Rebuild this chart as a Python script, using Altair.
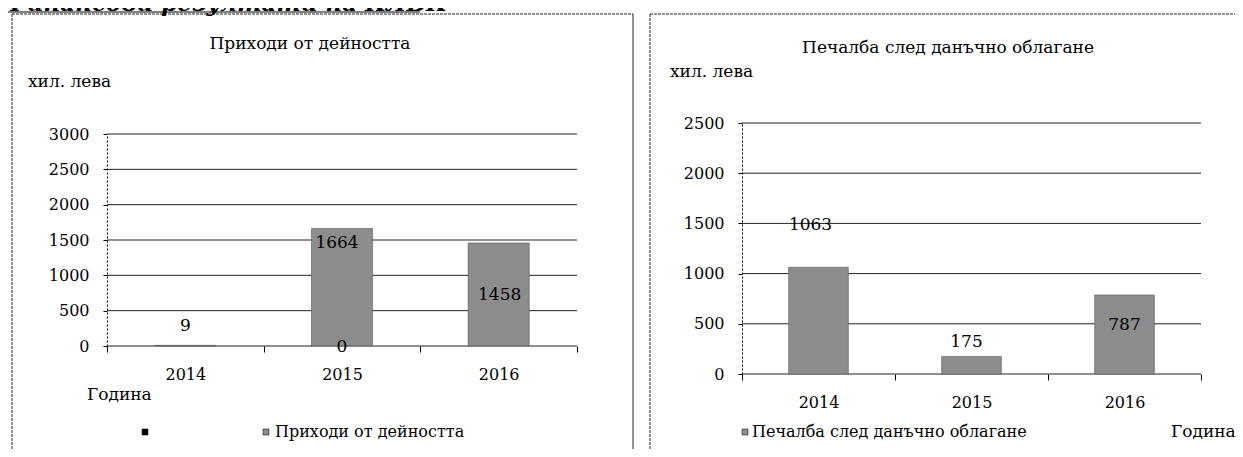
import altair as alt
import pandas as pd

# ---------------- data ----------------
years = ["2014", "2015", "2016"]
revenue = [9, 1664, 1458]            # Приходи от дейността
revenue_blank = [None, 0, None]      # unnamed series (only a 0 in 2015)
profit = [1063, 175, 787]            # Печалба след данъчно облагане
left_ticks = [0, 500, 1000, 1500, 2000, 2500, 3000]
right_ticks = [0, 500, 1000, 1500, 2000, 2500]

heading = "Финансови резултати на КЛБК"
left_title = "Приходи от дейността"
right_title = "Печалба след данъчно облагане"
unit_label = "хил. лева"
year_label = "Година"
left_legend = ["", "Приходи от дейността"]
right_legend = ["Печалба след данъчно облагане"]

# ---------------- layout / style ----------------
W, H = 1227, 441
def P(v):
    return v - 8  # page pixel -> chart pixel

FONT = "DejaVu Serif"
BAR = "#8c8c8c"
LX, LY = [P(107), P(577)], [P(346), P(134)]
RX, RY = [P(742), P(1201)], [P(374), P(123)]

# label offsets (dx, dy) as placed in the original chart
left_offsets = [(0, -19), (-5, 15), (1, 52)]
left_blank_offsets = [None, (0, 1), None]
right_offsets = [(-8, -42), (-5, -14), (0, 30)]

dummy = pd.DataFrame({"_": [0]})


def txt(s, x, y, size=16, align="left", **kw):
    return alt.Chart(dummy).mark_text(
        text=s, align=align, baseline="middle", font=FONT, fontSize=size, color="black", **kw
    ).encode(x=alt.value(x), y=alt.value(y))


def hline(x1, x2, y, dash=None, color="#222", w=1):
    kw = {"strokeDash": dash} if dash else {}
    return alt.Chart(dummy).mark_rule(color=color, strokeWidth=w, **kw).encode(
        x=alt.value(x1), x2=alt.value(x2), y=alt.value(y))


def vline(x, y1, y2, dash=None, color="#222", w=1):
    kw = {"strokeDash": dash} if dash else {}
    return alt.Chart(dummy).mark_rule(color=color, strokeWidth=w, **kw).encode(
        x=alt.value(x), y=alt.value(y1), y2=alt.value(y2))


def square(x, y, color):
    return alt.Chart(dummy).mark_square(size=36, color=color, opacity=1, stroke="black", strokeWidth=0.5).encode(
        x=alt.value(x), y=alt.value(y))


def panel(values, ticks, ymax, xr, yr, offsets, blank=None, blank_offsets=None):
    x = alt.X("year:N", sort=years,
              scale=alt.Scale(domain=years, range=xr, paddingInner=0, paddingOuter=0),
              axis=alt.Axis(orient="bottom", offset=-(H - yr[0]), title=None, labelAngle=0,
                            labelFont=FONT, labelFontSize=16, labelColor="black", labelPadding=14,
                            tickSize=6, tickColor="black", tickBand="extent", domain=False, grid=False))
    y = alt.Y("value:Q",
              scale=alt.Scale(domain=[0, ymax], range=yr, nice=False, zero=True),
              axis=alt.Axis(orient="left", offset=-xr[0], values=ticks, title=None, grid=False,
                            labelFont=FONT, labelFontSize=16, labelColor="black", labelPadding=14,
                            tickSize=4, tickColor="black", domainColor="black", domainDash=[2, 2],
                            format="d"))
    grid = alt.Chart(pd.DataFrame({"value": ticks})).mark_rule(color="#222", strokeWidth=1).encode(
        y=y, x=alt.value(xr[0]), x2=alt.value(xr[1]))
    bars = alt.Chart(pd.DataFrame({"year": years, "value": values})).mark_bar(
        width={"band": 0.39}, color=BAR, stroke="#555", strokeWidth=0.6).encode(x=x, y=y)
    layers = [grid, bars]
    for yr_, v, (dx, dy) in zip(years, values, offsets):
        layers.append(alt.Chart(pd.DataFrame({"year": [yr_], "value": [v], "text": [str(v)]})).mark_text(
            dx=dx, dy=dy, font=FONT, fontSize=17, color="black", baseline="middle").encode(
            x=x, y=y, text="text:N"))
    if blank is not None:
        for yr_, v, off in zip(years, blank, blank_offsets):
            if v is None:
                continue
            dx, dy = off
            layers.append(alt.Chart(pd.DataFrame({"year": [yr_], "value": [v], "text": [str(v)]})).mark_text(
                dx=dx, dy=dy, font=FONT, fontSize=17, color="black", baseline="middle").encode(
                x=x, y=y, text="text:N"))
    return alt.layer(*layers)


left_panel = panel(revenue, left_ticks, 3000, LX, LY, left_offsets, revenue_blank, left_blank_offsets)
right_panel = panel(profit, right_ticks, 2500, RX, RY, right_offsets)

decor = [
    # page heading (cut off at top)
    alt.Chart(dummy).mark_text(text=heading, align="left", baseline="alphabetic", font=FONT,
                               fontSize=23, fontWeight="bold", fontStyle="italic", color="black").encode(
        x=alt.value(P(5)), y=alt.value(P(11))),
    hline(P(5), P(420), P(12), color="black", w=1.2),
    # left frame
    vline(P(12), P(14), H, dash=[3, 1]),
    hline(P(12), P(633), P(14), dash=[3, 1]),
    vline(P(633), P(14), H),
    # right frame
    vline(P(650), P(14), H, dash=[3, 1]),
    hline(P(650), W, P(14), dash=[3, 1]),
    # left texts
    txt(left_title, P(310), P(44), size=17, align="center"),
    txt(unit_label, P(28), P(82), size=17),
    txt(year_label, P(87), P(395), size=17),
    square(P(145), P(432), "black"),
    txt(left_legend[0], P(152), P(432)),
    square(P(266), P(432), BAR),
    txt(left_legend[1], P(275), P(432)),
    # right texts
    txt(right_title, P(948), P(48), size=17, align="center"),
    txt(unit_label, P(670), P(72), size=17),
    square(P(745), P(432), BAR),
    txt(right_legend[0], P(752), P(432)),
    txt(year_label, P(1171), P(432), size=17),
]

chart = alt.layer(*decor, left_panel, right_panel).resolve_scale(
    x="independent", y="independent"
).properties(
    width=W, height=H, padding=0, autosize=alt.AutoSizeParams(type="none")
).configure_view(stroke=None)

chart.save("out.html", embed_options={"renderer": "svg", "actions": False})
